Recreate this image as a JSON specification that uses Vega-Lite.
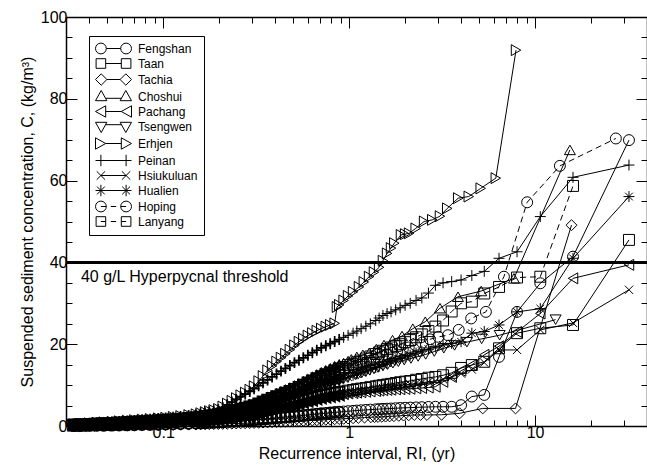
{
  "$schema": "https://vega.github.io/schema/vega-lite/v6.json",
  "width": 581,
  "height": 409,
  "autosize": {"type": "none"},
  "padding": {"left": 66, "top": 17, "right": 0, "bottom": 40},
  "config": {
    "font": "Liberation Sans",
    "view": {"stroke": null},
    "axis": {
      "labelFont": "Liberation Sans", "titleFont": "Liberation Sans",
      "labelFontSize": 16, "titleFontSize": 16, "titleFontWeight": "normal",
      "labelColor": "black", "titleColor": "black",
      "domainColor": "black", "domainWidth": 1.5,
      "tickColor": "black", "tickWidth": 1,
      "grid": false, "labelFlush": false, "labelOverlap": false
    }
  },
  "data": {"values": [
    {"river":"Tachia","ri":0.033,"c":0.05},{"river":"Tachia","ri":0.036,"c":0.06},{"river":"Tachia","ri":0.04,"c":0.08},{"river":"Tachia","ri":0.044,"c":0.09},{"river":"Tachia","ri":0.048,"c":0.1},{"river":"Tachia","ri":0.053,"c":0.11},{"river":"Tachia","ri":0.058,"c":0.12},{"river":"Tachia","ri":0.064,"c":0.14},{"river":"Tachia","ri":0.07,"c":0.16},{"river":"Tachia","ri":0.077,"c":0.18},{"river":"Tachia","ri":0.085,"c":0.2},{"river":"Tachia","ri":0.094,"c":0.23},{"river":"Tachia","ri":0.103,"c":0.25},{"river":"Tachia","ri":0.113,"c":0.28},{"river":"Tachia","ri":0.124,"c":0.3},{"river":"Tachia","ri":0.137,"c":0.33},
    {"river":"Tachia","ri":0.15,"c":0.36},{"river":"Tachia","ri":0.159,"c":0.39},{"river":"Tachia","ri":0.168,"c":0.41},{"river":"Tachia","ri":0.177,"c":0.44},{"river":"Tachia","ri":0.187,"c":0.46},{"river":"Tachia","ri":0.198,"c":0.49},{"river":"Tachia","ri":0.209,"c":0.52},{"river":"Tachia","ri":0.221,"c":0.55},{"river":"Tachia","ri":0.234,"c":0.58},{"river":"Tachia","ri":0.247,"c":0.62},{"river":"Tachia","ri":0.261,"c":0.65},{"river":"Tachia","ri":0.276,"c":0.68},{"river":"Tachia","ri":0.292,"c":0.71},{"river":"Tachia","ri":0.308,"c":0.75},{"river":"Tachia","ri":0.326,"c":0.79},{"river":"Tachia","ri":0.344,"c":0.84},{"river":"Tachia","ri":0.364,"c":0.88},{"river":"Tachia","ri":0.385,"c":0.93},{"river":"Tachia","ri":0.407,"c":0.97},{"river":"Tachia","ri":0.43,"c":1.01},{"river":"Tachia","ri":0.454,"c":1.05},{"river":"Tachia","ri":0.48,"c":1.1},{"river":"Tachia","ri":0.508,"c":1.15},{"river":"Tachia","ri":0.537,"c":1.2},{"river":"Tachia","ri":0.567,"c":1.25},{"river":"Tachia","ri":0.6,"c":1.3},{"river":"Tachia","ri":0.634,"c":1.36},{"river":"Tachia","ri":0.67,"c":1.41},{"river":"Tachia","ri":0.708,"c":1.46},{"river":"Tachia","ri":0.749,"c":1.53},{"river":"Tachia","ri":0.791,"c":1.59},{"river":"Tachia","ri":0.836,"c":1.65},{"river":"Tachia","ri":0.884,"c":1.71},{"river":"Tachia","ri":0.934,"c":1.77},{"river":"Tachia","ri":0.987,"c":1.83},
    {"river":"Tachia","ri":1.05,"c":1.9},{"river":"Tachia","ri":1.12,"c":1.97},{"river":"Tachia","ri":1.21,"c":2.05},{"river":"Tachia","ri":1.31,"c":2.15},{"river":"Tachia","ri":1.37,"c":2.18},{"river":"Tachia","ri":1.43,"c":2.2},{"river":"Tachia","ri":1.5,"c":2.25},{"river":"Tachia","ri":1.57,"c":2.3},{"river":"Tachia","ri":1.65,"c":2.35},{"river":"Tachia","ri":1.74,"c":2.4},{"river":"Tachia","ri":1.85,"c":2.48},{"river":"Tachia","ri":1.96,"c":2.55},{"river":"Tachia","ri":2.09,"c":2.62},{"river":"Tachia","ri":2.24,"c":2.7},{"river":"Tachia","ri":2.42,"c":2.7},{"river":"Tachia","ri":2.62,"c":2.7},{"river":"Tachia","ri":3.14,"c":2.75},{"river":"Tachia","ri":3.93,"c":3.1},{"river":"Tachia","ri":5.23,"c":4.3},{"river":"Tachia","ri":7.85,"c":4.3},{"river":"Tachia","ri":15.7,"c":49.1},

    {"river":"Fengshan","ri":0.033,"c":0.08},{"river":"Fengshan","ri":0.036,"c":0.1},{"river":"Fengshan","ri":0.04,"c":0.13},{"river":"Fengshan","ri":0.044,"c":0.15},{"river":"Fengshan","ri":0.048,"c":0.17},{"river":"Fengshan","ri":0.053,"c":0.2},{"river":"Fengshan","ri":0.058,"c":0.22},{"river":"Fengshan","ri":0.064,"c":0.26},{"river":"Fengshan","ri":0.07,"c":0.29},{"river":"Fengshan","ri":0.077,"c":0.33},{"river":"Fengshan","ri":0.085,"c":0.37},{"river":"Fengshan","ri":0.094,"c":0.41},{"river":"Fengshan","ri":0.103,"c":0.46},{"river":"Fengshan","ri":0.113,"c":0.52},{"river":"Fengshan","ri":0.124,"c":0.58},{"river":"Fengshan","ri":0.137,"c":0.64},
    {"river":"Fengshan","ri":0.15,"c":0.7},{"river":"Fengshan","ri":0.159,"c":0.75},{"river":"Fengshan","ri":0.168,"c":0.8},{"river":"Fengshan","ri":0.177,"c":0.85},{"river":"Fengshan","ri":0.187,"c":0.9},{"river":"Fengshan","ri":0.198,"c":0.95},{"river":"Fengshan","ri":0.209,"c":1.02},{"river":"Fengshan","ri":0.221,"c":1.09},{"river":"Fengshan","ri":0.234,"c":1.16},{"river":"Fengshan","ri":0.247,"c":1.23},{"river":"Fengshan","ri":0.261,"c":1.3},{"river":"Fengshan","ri":0.276,"c":1.37},{"river":"Fengshan","ri":0.292,"c":1.44},{"river":"Fengshan","ri":0.308,"c":1.52},{"river":"Fengshan","ri":0.326,"c":1.62},{"river":"Fengshan","ri":0.344,"c":1.71},{"river":"Fengshan","ri":0.364,"c":1.81},{"river":"Fengshan","ri":0.385,"c":1.91},{"river":"Fengshan","ri":0.407,"c":2.0},{"river":"Fengshan","ri":0.43,"c":2.1},{"river":"Fengshan","ri":0.454,"c":2.19},{"river":"Fengshan","ri":0.48,"c":2.28},{"river":"Fengshan","ri":0.508,"c":2.38},{"river":"Fengshan","ri":0.537,"c":2.49},{"river":"Fengshan","ri":0.567,"c":2.59},{"river":"Fengshan","ri":0.6,"c":2.7},{"river":"Fengshan","ri":0.634,"c":2.81},{"river":"Fengshan","ri":0.67,"c":2.92},{"river":"Fengshan","ri":0.708,"c":3.02},{"river":"Fengshan","ri":0.749,"c":3.12},{"river":"Fengshan","ri":0.791,"c":3.22},{"river":"Fengshan","ri":0.836,"c":3.33},{"river":"Fengshan","ri":0.884,"c":3.42},{"river":"Fengshan","ri":0.934,"c":3.53},{"river":"Fengshan","ri":0.987,"c":3.62},
    {"river":"Fengshan","ri":1.05,"c":3.7},{"river":"Fengshan","ri":1.1,"c":3.78},{"river":"Fengshan","ri":1.16,"c":3.85},{"river":"Fengshan","ri":1.23,"c":3.93},{"river":"Fengshan","ri":1.3,"c":4.0},{"river":"Fengshan","ri":1.39,"c":4.08},{"river":"Fengshan","ri":1.45,"c":4.13},{"river":"Fengshan","ri":1.52,"c":4.18},{"river":"Fengshan","ri":1.6,"c":4.23},{"river":"Fengshan","ri":1.68,"c":4.28},{"river":"Fengshan","ri":1.78,"c":4.34},{"river":"Fengshan","ri":1.88,"c":4.4},{"river":"Fengshan","ri":2.0,"c":4.45},{"river":"Fengshan","ri":2.13,"c":4.5},{"river":"Fengshan","ri":2.29,"c":4.55},{"river":"Fengshan","ri":2.46,"c":4.6},{"river":"Fengshan","ri":2.67,"c":4.65},{"river":"Fengshan","ri":2.91,"c":4.7},{"river":"Fengshan","ri":3.2,"c":4.7},{"river":"Fengshan","ri":3.56,"c":4.7},{"river":"Fengshan","ri":4.0,"c":5.1},{"river":"Fengshan","ri":4.57,"c":7.2},{"river":"Fengshan","ri":5.33,"c":7.6},{"river":"Fengshan","ri":6.4,"c":16.9},{"river":"Fengshan","ri":8,"c":27.9},{"river":"Fengshan","ri":10.67,"c":34.9},{"river":"Fengshan","ri":16,"c":41.4},{"river":"Fengshan","ri":32,"c":69.9},

    {"river":"Hsiukuluan","ri":0.033,"c":0.14},{"river":"Hsiukuluan","ri":0.036,"c":0.18},{"river":"Hsiukuluan","ri":0.04,"c":0.24},{"river":"Hsiukuluan","ri":0.044,"c":0.28},{"river":"Hsiukuluan","ri":0.048,"c":0.33},{"river":"Hsiukuluan","ri":0.053,"c":0.38},{"river":"Hsiukuluan","ri":0.058,"c":0.42},{"river":"Hsiukuluan","ri":0.064,"c":0.49},{"river":"Hsiukuluan","ri":0.07,"c":0.55},{"river":"Hsiukuluan","ri":0.077,"c":0.62},{"river":"Hsiukuluan","ri":0.085,"c":0.69},{"river":"Hsiukuluan","ri":0.094,"c":0.76},{"river":"Hsiukuluan","ri":0.103,"c":0.83},{"river":"Hsiukuluan","ri":0.113,"c":0.93},{"river":"Hsiukuluan","ri":0.124,"c":1.02},{"river":"Hsiukuluan","ri":0.137,"c":1.13},
    {"river":"Hsiukuluan","ri":0.15,"c":1.22},{"river":"Hsiukuluan","ri":0.159,"c":1.31},{"river":"Hsiukuluan","ri":0.168,"c":1.39},{"river":"Hsiukuluan","ri":0.177,"c":1.48},{"river":"Hsiukuluan","ri":0.187,"c":1.56},{"river":"Hsiukuluan","ri":0.198,"c":1.64},{"river":"Hsiukuluan","ri":0.209,"c":1.78},{"river":"Hsiukuluan","ri":0.221,"c":1.93},{"river":"Hsiukuluan","ri":0.234,"c":2.09},{"river":"Hsiukuluan","ri":0.247,"c":2.23},{"river":"Hsiukuluan","ri":0.261,"c":2.38},{"river":"Hsiukuluan","ri":0.276,"c":2.52},{"river":"Hsiukuluan","ri":0.292,"c":2.67},{"river":"Hsiukuluan","ri":0.308,"c":2.86},{"river":"Hsiukuluan","ri":0.326,"c":3.1},{"river":"Hsiukuluan","ri":0.344,"c":3.34},{"river":"Hsiukuluan","ri":0.364,"c":3.59},{"river":"Hsiukuluan","ri":0.385,"c":3.83},{"river":"Hsiukuluan","ri":0.407,"c":4.07},{"river":"Hsiukuluan","ri":0.43,"c":4.31},{"river":"Hsiukuluan","ri":0.454,"c":4.53},{"river":"Hsiukuluan","ri":0.48,"c":4.77},{"river":"Hsiukuluan","ri":0.508,"c":5.03},{"river":"Hsiukuluan","ri":0.537,"c":5.3},{"river":"Hsiukuluan","ri":0.567,"c":5.56},{"river":"Hsiukuluan","ri":0.6,"c":5.84},{"river":"Hsiukuluan","ri":0.634,"c":6.12},{"river":"Hsiukuluan","ri":0.67,"c":6.39},{"river":"Hsiukuluan","ri":0.708,"c":6.64},{"river":"Hsiukuluan","ri":0.749,"c":6.85},{"river":"Hsiukuluan","ri":0.791,"c":7.04},{"river":"Hsiukuluan","ri":0.836,"c":7.25},{"river":"Hsiukuluan","ri":0.884,"c":7.45},{"river":"Hsiukuluan","ri":0.934,"c":7.65},{"river":"Hsiukuluan","ri":0.987,"c":7.85},
    {"river":"Hsiukuluan","ri":1.05,"c":8.0},{"river":"Hsiukuluan","ri":1.1,"c":8.2},{"river":"Hsiukuluan","ri":1.16,"c":8.4},{"river":"Hsiukuluan","ri":1.23,"c":8.6},{"river":"Hsiukuluan","ri":1.3,"c":8.8},{"river":"Hsiukuluan","ri":1.39,"c":9.0},{"river":"Hsiukuluan","ri":1.45,"c":9.15},{"river":"Hsiukuluan","ri":1.52,"c":9.3},{"river":"Hsiukuluan","ri":1.6,"c":9.45},{"river":"Hsiukuluan","ri":1.68,"c":9.6},{"river":"Hsiukuluan","ri":1.78,"c":9.75},{"river":"Hsiukuluan","ri":1.88,"c":9.9},{"river":"Hsiukuluan","ri":2.0,"c":10.05},{"river":"Hsiukuluan","ri":2.13,"c":10.2},{"river":"Hsiukuluan","ri":2.29,"c":10.4},{"river":"Hsiukuluan","ri":2.46,"c":10.6},{"river":"Hsiukuluan","ri":2.67,"c":10.8},{"river":"Hsiukuluan","ri":2.91,"c":11.0},{"river":"Hsiukuluan","ri":3.2,"c":11.4},{"river":"Hsiukuluan","ri":3.56,"c":12.0},{"river":"Hsiukuluan","ri":4.0,"c":12.8},{"river":"Hsiukuluan","ri":4.57,"c":13.8},{"river":"Hsiukuluan","ri":5.33,"c":15.5},{"river":"Hsiukuluan","ri":6.4,"c":18.6},{"river":"Hsiukuluan","ri":8,"c":18.6},{"river":"Hsiukuluan","ri":10.67,"c":23.5},{"river":"Hsiukuluan","ri":16,"c":25.2},{"river":"Hsiukuluan","ri":32,"c":33.3},

    {"river":"Pachang","ri":0.033,"c":0.16},{"river":"Pachang","ri":0.036,"c":0.2},{"river":"Pachang","ri":0.04,"c":0.26},{"river":"Pachang","ri":0.044,"c":0.3},{"river":"Pachang","ri":0.048,"c":0.35},{"river":"Pachang","ri":0.053,"c":0.4},{"river":"Pachang","ri":0.058,"c":0.44},{"river":"Pachang","ri":0.064,"c":0.51},{"river":"Pachang","ri":0.07,"c":0.57},{"river":"Pachang","ri":0.077,"c":0.64},{"river":"Pachang","ri":0.085,"c":0.71},{"river":"Pachang","ri":0.094,"c":0.79},{"river":"Pachang","ri":0.103,"c":0.86},{"river":"Pachang","ri":0.113,"c":0.96},{"river":"Pachang","ri":0.124,"c":1.06},{"river":"Pachang","ri":0.137,"c":1.17},
    {"river":"Pachang","ri":0.15,"c":1.26},{"river":"Pachang","ri":0.159,"c":1.35},{"river":"Pachang","ri":0.168,"c":1.44},{"river":"Pachang","ri":0.177,"c":1.53},{"river":"Pachang","ri":0.187,"c":1.61},{"river":"Pachang","ri":0.198,"c":1.7},{"river":"Pachang","ri":0.209,"c":1.84},{"river":"Pachang","ri":0.221,"c":2.0},{"river":"Pachang","ri":0.234,"c":2.16},{"river":"Pachang","ri":0.247,"c":2.31},{"river":"Pachang","ri":0.261,"c":2.47},{"river":"Pachang","ri":0.276,"c":2.61},{"river":"Pachang","ri":0.292,"c":2.77},{"river":"Pachang","ri":0.308,"c":2.96},{"river":"Pachang","ri":0.326,"c":3.21},{"river":"Pachang","ri":0.344,"c":3.46},{"river":"Pachang","ri":0.364,"c":3.7},{"river":"Pachang","ri":0.385,"c":3.95},{"river":"Pachang","ri":0.407,"c":4.2},{"river":"Pachang","ri":0.43,"c":4.45},{"river":"Pachang","ri":0.454,"c":4.67},{"river":"Pachang","ri":0.48,"c":4.92},{"river":"Pachang","ri":0.508,"c":5.19},{"river":"Pachang","ri":0.537,"c":5.46},{"river":"Pachang","ri":0.567,"c":5.73},{"river":"Pachang","ri":0.6,"c":6.02},{"river":"Pachang","ri":0.634,"c":6.31},{"river":"Pachang","ri":0.67,"c":6.58},{"river":"Pachang","ri":0.708,"c":6.84},{"river":"Pachang","ri":0.749,"c":7.03},{"river":"Pachang","ri":0.791,"c":7.21},{"river":"Pachang","ri":0.836,"c":7.4},{"river":"Pachang","ri":0.884,"c":7.58},{"river":"Pachang","ri":0.934,"c":7.77},{"river":"Pachang","ri":0.987,"c":7.95},
    {"river":"Pachang","ri":1.05,"c":8.05},{"river":"Pachang","ri":1.1,"c":8.15},{"river":"Pachang","ri":1.16,"c":8.25},{"river":"Pachang","ri":1.23,"c":8.35},{"river":"Pachang","ri":1.3,"c":8.45},{"river":"Pachang","ri":1.39,"c":8.55},{"river":"Pachang","ri":1.45,"c":8.65},{"river":"Pachang","ri":1.52,"c":8.75},{"river":"Pachang","ri":1.6,"c":8.82},{"river":"Pachang","ri":1.68,"c":8.88},{"river":"Pachang","ri":1.78,"c":8.95},{"river":"Pachang","ri":1.88,"c":9.0},{"river":"Pachang","ri":2.0,"c":9.05},{"river":"Pachang","ri":2.13,"c":9.1},{"river":"Pachang","ri":2.29,"c":9.2},{"river":"Pachang","ri":2.46,"c":9.3},{"river":"Pachang","ri":2.67,"c":9.4},{"river":"Pachang","ri":2.91,"c":9.6},{"river":"Pachang","ri":3.2,"c":10.8},{"river":"Pachang","ri":3.56,"c":12.0},{"river":"Pachang","ri":4.0,"c":13.5},{"river":"Pachang","ri":4.57,"c":14.9},{"river":"Pachang","ri":5.33,"c":17.4},{"river":"Pachang","ri":6.4,"c":19.5},{"river":"Pachang","ri":8,"c":23.0},{"river":"Pachang","ri":10.67,"c":27.5},{"river":"Pachang","ri":16,"c":36.1},{"river":"Pachang","ri":32,"c":39.4},

    {"river":"Taan","ri":0.033,"c":0.18},{"river":"Taan","ri":0.036,"c":0.23},{"river":"Taan","ri":0.04,"c":0.29},{"river":"Taan","ri":0.044,"c":0.34},{"river":"Taan","ri":0.048,"c":0.39},{"river":"Taan","ri":0.053,"c":0.45},{"river":"Taan","ri":0.058,"c":0.5},{"river":"Taan","ri":0.064,"c":0.57},{"river":"Taan","ri":0.07,"c":0.64},{"river":"Taan","ri":0.077,"c":0.72},{"river":"Taan","ri":0.085,"c":0.8},{"river":"Taan","ri":0.094,"c":0.88},{"river":"Taan","ri":0.103,"c":0.96},{"river":"Taan","ri":0.113,"c":1.07},{"river":"Taan","ri":0.124,"c":1.18},{"river":"Taan","ri":0.137,"c":1.3},
    {"river":"Taan","ri":0.15,"c":1.4},{"river":"Taan","ri":0.159,"c":1.5},{"river":"Taan","ri":0.168,"c":1.6},{"river":"Taan","ri":0.177,"c":1.69},{"river":"Taan","ri":0.187,"c":1.79},{"river":"Taan","ri":0.198,"c":1.88},{"river":"Taan","ri":0.209,"c":2.03},{"river":"Taan","ri":0.221,"c":2.2},{"river":"Taan","ri":0.234,"c":2.37},{"river":"Taan","ri":0.247,"c":2.52},{"river":"Taan","ri":0.261,"c":2.69},{"river":"Taan","ri":0.276,"c":2.85},{"river":"Taan","ri":0.292,"c":3.02},{"river":"Taan","ri":0.308,"c":3.23},{"river":"Taan","ri":0.326,"c":3.5},{"river":"Taan","ri":0.344,"c":3.78},{"river":"Taan","ri":0.364,"c":4.05},{"river":"Taan","ri":0.385,"c":4.33},{"river":"Taan","ri":0.407,"c":4.6},{"river":"Taan","ri":0.43,"c":4.88},{"river":"Taan","ri":0.454,"c":5.13},{"river":"Taan","ri":0.48,"c":5.4},{"river":"Taan","ri":0.508,"c":5.69},{"river":"Taan","ri":0.537,"c":5.98},{"river":"Taan","ri":0.567,"c":6.27},{"river":"Taan","ri":0.6,"c":6.57},{"river":"Taan","ri":0.634,"c":6.88},{"river":"Taan","ri":0.67,"c":7.17},{"river":"Taan","ri":0.708,"c":7.44},{"river":"Taan","ri":0.749,"c":7.65},{"river":"Taan","ri":0.791,"c":7.84},{"river":"Taan","ri":0.836,"c":8.05},{"river":"Taan","ri":0.884,"c":8.25},{"river":"Taan","ri":0.934,"c":8.45},{"river":"Taan","ri":0.987,"c":8.65},
    {"river":"Taan","ri":1.05,"c":8.8},{"river":"Taan","ri":1.1,"c":9.0},{"river":"Taan","ri":1.16,"c":9.15},{"river":"Taan","ri":1.23,"c":9.3},{"river":"Taan","ri":1.3,"c":9.5},{"river":"Taan","ri":1.39,"c":9.7},{"river":"Taan","ri":1.45,"c":9.85},{"river":"Taan","ri":1.52,"c":10.0},{"river":"Taan","ri":1.6,"c":10.15},{"river":"Taan","ri":1.68,"c":10.3},{"river":"Taan","ri":1.78,"c":10.5},{"river":"Taan","ri":1.88,"c":10.7},{"river":"Taan","ri":2.0,"c":10.85},{"river":"Taan","ri":2.13,"c":11.0},{"river":"Taan","ri":2.29,"c":11.3},{"river":"Taan","ri":2.46,"c":11.5},{"river":"Taan","ri":2.67,"c":11.8},{"river":"Taan","ri":2.91,"c":12.0},{"river":"Taan","ri":3.2,"c":12.4},{"river":"Taan","ri":3.56,"c":13.0},{"river":"Taan","ri":4.0,"c":14.2},{"river":"Taan","ri":4.57,"c":14.9},{"river":"Taan","ri":5.33,"c":15.7},{"river":"Taan","ri":6.4,"c":19.0},{"river":"Taan","ri":8,"c":22.7},{"river":"Taan","ri":10.67,"c":23.9},{"river":"Taan","ri":16,"c":24.7},{"river":"Taan","ri":32,"c":45.5},

    {"river":"Tsengwen","ri":0.033,"c":0.22},{"river":"Tsengwen","ri":0.036,"c":0.29},{"river":"Tsengwen","ri":0.04,"c":0.37},{"river":"Tsengwen","ri":0.044,"c":0.45},{"river":"Tsengwen","ri":0.048,"c":0.52},{"river":"Tsengwen","ri":0.053,"c":0.6},{"river":"Tsengwen","ri":0.058,"c":0.67},{"river":"Tsengwen","ri":0.064,"c":0.76},{"river":"Tsengwen","ri":0.07,"c":0.85},{"river":"Tsengwen","ri":0.077,"c":0.94},{"river":"Tsengwen","ri":0.085,"c":1.03},{"river":"Tsengwen","ri":0.094,"c":1.13},{"river":"Tsengwen","ri":0.103,"c":1.23},{"river":"Tsengwen","ri":0.113,"c":1.37},{"river":"Tsengwen","ri":0.124,"c":1.5},{"river":"Tsengwen","ri":0.137,"c":1.65},
    {"river":"Tsengwen","ri":0.15,"c":1.78},{"river":"Tsengwen","ri":0.159,"c":1.91},{"river":"Tsengwen","ri":0.168,"c":2.04},{"river":"Tsengwen","ri":0.177,"c":2.17},{"river":"Tsengwen","ri":0.187,"c":2.3},{"river":"Tsengwen","ri":0.198,"c":2.42},{"river":"Tsengwen","ri":0.209,"c":2.61},{"river":"Tsengwen","ri":0.221,"c":2.81},{"river":"Tsengwen","ri":0.234,"c":3.02},{"river":"Tsengwen","ri":0.247,"c":3.2},{"river":"Tsengwen","ri":0.261,"c":3.41},{"river":"Tsengwen","ri":0.276,"c":3.6},{"river":"Tsengwen","ri":0.292,"c":3.8},{"river":"Tsengwen","ri":0.308,"c":4.07},{"river":"Tsengwen","ri":0.326,"c":4.43},{"river":"Tsengwen","ri":0.344,"c":4.79},{"river":"Tsengwen","ri":0.364,"c":5.15},{"river":"Tsengwen","ri":0.385,"c":5.52},{"river":"Tsengwen","ri":0.407,"c":5.88},{"river":"Tsengwen","ri":0.43,"c":6.24},{"river":"Tsengwen","ri":0.454,"c":6.57},{"river":"Tsengwen","ri":0.48,"c":6.94},{"river":"Tsengwen","ri":0.508,"c":7.33},{"river":"Tsengwen","ri":0.537,"c":7.75},{"river":"Tsengwen","ri":0.567,"c":8.16},{"river":"Tsengwen","ri":0.6,"c":8.6},{"river":"Tsengwen","ri":0.634,"c":9.05},{"river":"Tsengwen","ri":0.67,"c":9.46},{"river":"Tsengwen","ri":0.708,"c":9.87},{"river":"Tsengwen","ri":0.749,"c":10.22},{"river":"Tsengwen","ri":0.791,"c":10.55},{"river":"Tsengwen","ri":0.836,"c":10.9},{"river":"Tsengwen","ri":0.884,"c":11.23},{"river":"Tsengwen","ri":0.934,"c":11.58},{"river":"Tsengwen","ri":0.987,"c":11.91},
    {"river":"Tsengwen","ri":1.08,"c":12.5},{"river":"Tsengwen","ri":1.12,"c":12.7},{"river":"Tsengwen","ri":1.17,"c":13.0},{"river":"Tsengwen","ri":1.23,"c":13.3},{"river":"Tsengwen","ri":1.29,"c":13.6},{"river":"Tsengwen","ri":1.36,"c":13.95},{"river":"Tsengwen","ri":1.43,"c":14.3},{"river":"Tsengwen","ri":1.52,"c":14.65},{"river":"Tsengwen","ri":1.61,"c":15.0},{"river":"Tsengwen","ri":1.72,"c":15.35},{"river":"Tsengwen","ri":1.84,"c":15.7},{"river":"Tsengwen","ri":1.98,"c":16.1},{"river":"Tsengwen","ri":2.15,"c":16.5},{"river":"Tsengwen","ri":2.35,"c":17.0},{"river":"Tsengwen","ri":2.58,"c":17.5},{"river":"Tsengwen","ri":2.87,"c":18.2},{"river":"Tsengwen","ri":3.23,"c":19.0},{"river":"Tsengwen","ri":3.69,"c":19.7},{"river":"Tsengwen","ri":4.3,"c":20.5},{"river":"Tsengwen","ri":5.16,"c":21.3},{"river":"Tsengwen","ri":6.45,"c":22.2},{"river":"Tsengwen","ri":12.9,"c":26.0},

    {"river":"Hualien","ri":0.033,"c":0.25},{"river":"Hualien","ri":0.036,"c":0.32},{"river":"Hualien","ri":0.04,"c":0.41},{"river":"Hualien","ri":0.044,"c":0.49},{"river":"Hualien","ri":0.048,"c":0.57},{"river":"Hualien","ri":0.053,"c":0.65},{"river":"Hualien","ri":0.058,"c":0.72},{"river":"Hualien","ri":0.064,"c":0.82},{"river":"Hualien","ri":0.07,"c":0.91},{"river":"Hualien","ri":0.077,"c":1.02},{"river":"Hualien","ri":0.085,"c":1.12},{"river":"Hualien","ri":0.094,"c":1.23},{"river":"Hualien","ri":0.103,"c":1.34},{"river":"Hualien","ri":0.113,"c":1.48},{"river":"Hualien","ri":0.124,"c":1.63},{"river":"Hualien","ri":0.137,"c":1.79},
    {"river":"Hualien","ri":0.15,"c":1.93},{"river":"Hualien","ri":0.159,"c":2.08},{"river":"Hualien","ri":0.168,"c":2.22},{"river":"Hualien","ri":0.177,"c":2.37},{"river":"Hualien","ri":0.187,"c":2.51},{"river":"Hualien","ri":0.198,"c":2.65},{"river":"Hualien","ri":0.209,"c":2.86},{"river":"Hualien","ri":0.221,"c":3.09},{"river":"Hualien","ri":0.234,"c":3.31},{"river":"Hualien","ri":0.247,"c":3.52},{"river":"Hualien","ri":0.261,"c":3.75},{"river":"Hualien","ri":0.276,"c":3.96},{"river":"Hualien","ri":0.292,"c":4.19},{"river":"Hualien","ri":0.308,"c":4.48},{"river":"Hualien","ri":0.326,"c":4.86},{"river":"Hualien","ri":0.344,"c":5.25},{"river":"Hualien","ri":0.364,"c":5.63},{"river":"Hualien","ri":0.385,"c":6.02},{"river":"Hualien","ri":0.407,"c":6.4},{"river":"Hualien","ri":0.43,"c":6.79},{"river":"Hualien","ri":0.454,"c":7.14},{"river":"Hualien","ri":0.48,"c":7.52},{"river":"Hualien","ri":0.508,"c":7.93},{"river":"Hualien","ri":0.537,"c":8.35},{"river":"Hualien","ri":0.567,"c":8.76},{"river":"Hualien","ri":0.6,"c":9.2},{"river":"Hualien","ri":0.634,"c":9.65},{"river":"Hualien","ri":0.67,"c":10.06},{"river":"Hualien","ri":0.708,"c":10.45},{"river":"Hualien","ri":0.749,"c":10.7},{"river":"Hualien","ri":0.791,"c":10.94},{"river":"Hualien","ri":0.836,"c":11.2},{"river":"Hualien","ri":0.884,"c":11.44},{"river":"Hualien","ri":0.934,"c":11.7},{"river":"Hualien","ri":0.987,"c":11.94},
    {"river":"Hualien","ri":1.05,"c":12.4},{"river":"Hualien","ri":1.1,"c":12.75},{"river":"Hualien","ri":1.16,"c":13.1},{"river":"Hualien","ri":1.23,"c":13.5},{"river":"Hualien","ri":1.3,"c":13.9},{"river":"Hualien","ri":1.39,"c":14.3},{"river":"Hualien","ri":1.45,"c":14.65},{"river":"Hualien","ri":1.52,"c":15.0},{"river":"Hualien","ri":1.6,"c":15.4},{"river":"Hualien","ri":1.68,"c":15.8},{"river":"Hualien","ri":1.78,"c":16.15},{"river":"Hualien","ri":1.88,"c":16.5},{"river":"Hualien","ri":2.0,"c":16.9},{"river":"Hualien","ri":2.13,"c":17.3},{"river":"Hualien","ri":2.29,"c":17.8},{"river":"Hualien","ri":2.46,"c":18.3},{"river":"Hualien","ri":2.67,"c":18.8},{"river":"Hualien","ri":2.91,"c":19.3},{"river":"Hualien","ri":3.2,"c":19.8},{"river":"Hualien","ri":3.56,"c":20.2},{"river":"Hualien","ri":4.0,"c":20.6},{"river":"Hualien","ri":4.57,"c":22.7},{"river":"Hualien","ri":5.33,"c":23.1},{"river":"Hualien","ri":6.4,"c":24.7},{"river":"Hualien","ri":8,"c":27.9},{"river":"Hualien","ri":10.67,"c":28.7},{"river":"Hualien","ri":16,"c":41.0},{"river":"Hualien","ri":32,"c":56.1},

    {"river":"Hoping","ri":0.033,"c":0.27},{"river":"Hoping","ri":0.036,"c":0.35},{"river":"Hoping","ri":0.04,"c":0.45},{"river":"Hoping","ri":0.044,"c":0.53},{"river":"Hoping","ri":0.048,"c":0.62},{"river":"Hoping","ri":0.053,"c":0.7},{"river":"Hoping","ri":0.058,"c":0.79},{"river":"Hoping","ri":0.064,"c":0.9},{"river":"Hoping","ri":0.07,"c":0.99},{"river":"Hoping","ri":0.077,"c":1.1},{"river":"Hoping","ri":0.085,"c":1.21},{"river":"Hoping","ri":0.094,"c":1.33},{"river":"Hoping","ri":0.103,"c":1.45},{"river":"Hoping","ri":0.113,"c":1.6},{"river":"Hoping","ri":0.124,"c":1.76},{"river":"Hoping","ri":0.137,"c":1.92},
    {"river":"Hoping","ri":0.15,"c":2.07},{"river":"Hoping","ri":0.159,"c":2.24},{"river":"Hoping","ri":0.168,"c":2.39},{"river":"Hoping","ri":0.177,"c":2.55},{"river":"Hoping","ri":0.187,"c":2.71},{"river":"Hoping","ri":0.198,"c":2.87},{"river":"Hoping","ri":0.209,"c":3.1},{"river":"Hoping","ri":0.221,"c":3.35},{"river":"Hoping","ri":0.234,"c":3.6},{"river":"Hoping","ri":0.247,"c":3.84},{"river":"Hoping","ri":0.261,"c":4.09},{"river":"Hoping","ri":0.276,"c":4.32},{"river":"Hoping","ri":0.292,"c":4.57},{"river":"Hoping","ri":0.308,"c":4.89},{"river":"Hoping","ri":0.326,"c":5.31},{"river":"Hoping","ri":0.344,"c":5.73},{"river":"Hoping","ri":0.364,"c":6.14},{"river":"Hoping","ri":0.385,"c":6.56},{"river":"Hoping","ri":0.407,"c":6.98},{"river":"Hoping","ri":0.43,"c":7.4},{"river":"Hoping","ri":0.454,"c":7.78},{"river":"Hoping","ri":0.48,"c":8.2},{"river":"Hoping","ri":0.508,"c":8.65},{"river":"Hoping","ri":0.537,"c":9.13},{"river":"Hoping","ri":0.567,"c":9.61},{"river":"Hoping","ri":0.6,"c":10.12},{"river":"Hoping","ri":0.634,"c":10.63},{"river":"Hoping","ri":0.67,"c":11.11},{"river":"Hoping","ri":0.708,"c":11.58},{"river":"Hoping","ri":0.749,"c":12.01},{"river":"Hoping","ri":0.791,"c":12.42},{"river":"Hoping","ri":0.836,"c":12.85},{"river":"Hoping","ri":0.884,"c":13.26},{"river":"Hoping","ri":0.934,"c":13.69},{"river":"Hoping","ri":0.987,"c":14.09},
    {"river":"Hoping","ri":1.046,"c":14.4},{"river":"Hoping","ri":1.088,"c":14.7},{"river":"Hoping","ri":1.133,"c":15.0},{"river":"Hoping","ri":1.183,"c":15.3},{"river":"Hoping","ri":1.236,"c":15.6},{"river":"Hoping","ri":1.295,"c":15.95},{"river":"Hoping","ri":1.36,"c":16.3},{"river":"Hoping","ri":1.432,"c":16.7},{"river":"Hoping","ri":1.511,"c":17.1},{"river":"Hoping","ri":1.6,"c":17.5},{"river":"Hoping","ri":1.7,"c":17.9},{"river":"Hoping","ri":1.813,"c":18.3},{"river":"Hoping","ri":1.943,"c":18.75},{"river":"Hoping","ri":2.092,"c":19.2},{"river":"Hoping","ri":2.267,"c":19.8},{"river":"Hoping","ri":2.473,"c":20.4},{"river":"Hoping","ri":2.72,"c":21.2},{"river":"Hoping","ri":3.022,"c":21.8},{"river":"Hoping","ri":3.4,"c":22.2},{"river":"Hoping","ri":3.886,"c":23.5},{"river":"Hoping","ri":4.533,"c":26.3},{"river":"Hoping","ri":5.44,"c":27.9},{"river":"Hoping","ri":6.8,"c":36.5},{"river":"Hoping","ri":9.067,"c":54.7},{"river":"Hoping","ri":13.6,"c":63.6},{"river":"Hoping","ri":27.2,"c":70.3},

    {"river":"Lanyang","ri":0.033,"c":0.26},{"river":"Lanyang","ri":0.036,"c":0.34},{"river":"Lanyang","ri":0.04,"c":0.43},{"river":"Lanyang","ri":0.044,"c":0.51},{"river":"Lanyang","ri":0.048,"c":0.59},{"river":"Lanyang","ri":0.053,"c":0.68},{"river":"Lanyang","ri":0.058,"c":0.76},{"river":"Lanyang","ri":0.064,"c":0.87},{"river":"Lanyang","ri":0.07,"c":0.96},{"river":"Lanyang","ri":0.077,"c":1.07},{"river":"Lanyang","ri":0.085,"c":1.18},{"river":"Lanyang","ri":0.094,"c":1.3},{"river":"Lanyang","ri":0.103,"c":1.42},{"river":"Lanyang","ri":0.113,"c":1.57},{"river":"Lanyang","ri":0.124,"c":1.72},{"river":"Lanyang","ri":0.137,"c":1.89},
    {"river":"Lanyang","ri":0.15,"c":2.03},{"river":"Lanyang","ri":0.159,"c":2.19},{"river":"Lanyang","ri":0.168,"c":2.35},{"river":"Lanyang","ri":0.177,"c":2.51},{"river":"Lanyang","ri":0.187,"c":2.66},{"river":"Lanyang","ri":0.198,"c":2.82},{"river":"Lanyang","ri":0.209,"c":3.07},{"river":"Lanyang","ri":0.221,"c":3.34},{"river":"Lanyang","ri":0.234,"c":3.61},{"river":"Lanyang","ri":0.247,"c":3.86},{"river":"Lanyang","ri":0.261,"c":4.14},{"river":"Lanyang","ri":0.276,"c":4.39},{"river":"Lanyang","ri":0.292,"c":4.66},{"river":"Lanyang","ri":0.308,"c":5.0},{"river":"Lanyang","ri":0.326,"c":5.44},{"river":"Lanyang","ri":0.344,"c":5.88},{"river":"Lanyang","ri":0.364,"c":6.32},{"river":"Lanyang","ri":0.385,"c":6.76},{"river":"Lanyang","ri":0.407,"c":7.2},{"river":"Lanyang","ri":0.43,"c":7.64},{"river":"Lanyang","ri":0.454,"c":8.04},{"river":"Lanyang","ri":0.48,"c":8.48},{"river":"Lanyang","ri":0.508,"c":8.96},{"river":"Lanyang","ri":0.537,"c":9.47},{"river":"Lanyang","ri":0.567,"c":9.98},{"river":"Lanyang","ri":0.6,"c":10.53},{"river":"Lanyang","ri":0.634,"c":11.07},{"river":"Lanyang","ri":0.67,"c":11.58},{"river":"Lanyang","ri":0.708,"c":12.09},{"river":"Lanyang","ri":0.749,"c":12.57},{"river":"Lanyang","ri":0.791,"c":13.02},{"river":"Lanyang","ri":0.836,"c":13.5},{"river":"Lanyang","ri":0.884,"c":13.95},{"river":"Lanyang","ri":0.934,"c":14.43},{"river":"Lanyang","ri":0.987,"c":14.88},
    {"river":"Lanyang","ri":1.05,"c":15.2},{"river":"Lanyang","ri":1.1,"c":15.6},{"river":"Lanyang","ri":1.16,"c":16.0},{"river":"Lanyang","ri":1.23,"c":16.5},{"river":"Lanyang","ri":1.3,"c":17.0},{"river":"Lanyang","ri":1.39,"c":17.6},{"river":"Lanyang","ri":1.45,"c":18.0},{"river":"Lanyang","ri":1.52,"c":18.4},{"river":"Lanyang","ri":1.6,"c":18.8},{"river":"Lanyang","ri":1.68,"c":19.2},{"river":"Lanyang","ri":1.78,"c":19.6},{"river":"Lanyang","ri":1.88,"c":20.0},{"river":"Lanyang","ri":2.0,"c":20.5},{"river":"Lanyang","ri":2.13,"c":21.0},{"river":"Lanyang","ri":2.29,"c":21.7},{"river":"Lanyang","ri":2.46,"c":22.4},{"river":"Lanyang","ri":2.67,"c":23.2},{"river":"Lanyang","ri":2.91,"c":24.3},{"river":"Lanyang","ri":3.2,"c":25.8},{"river":"Lanyang","ri":3.56,"c":28.0},{"river":"Lanyang","ri":4.0,"c":30.0},{"river":"Lanyang","ri":4.57,"c":30.4},{"river":"Lanyang","ri":5.33,"c":32.4},{"river":"Lanyang","ri":6.4,"c":34.0},{"river":"Lanyang","ri":8,"c":36.3},{"river":"Lanyang","ri":10.67,"c":36.5},{"river":"Lanyang","ri":16,"c":58.7},

    {"river":"Choshui","ri":0.033,"c":0.3},{"river":"Choshui","ri":0.036,"c":0.39},{"river":"Choshui","ri":0.04,"c":0.49},{"river":"Choshui","ri":0.044,"c":0.59},{"river":"Choshui","ri":0.048,"c":0.68},{"river":"Choshui","ri":0.053,"c":0.77},{"river":"Choshui","ri":0.058,"c":0.86},{"river":"Choshui","ri":0.064,"c":0.98},{"river":"Choshui","ri":0.07,"c":1.09},{"river":"Choshui","ri":0.077,"c":1.21},{"river":"Choshui","ri":0.085,"c":1.33},{"river":"Choshui","ri":0.094,"c":1.45},{"river":"Choshui","ri":0.103,"c":1.58},{"river":"Choshui","ri":0.113,"c":1.76},{"river":"Choshui","ri":0.124,"c":1.93},{"river":"Choshui","ri":0.137,"c":2.12},
    {"river":"Choshui","ri":0.15,"c":2.28},{"river":"Choshui","ri":0.159,"c":2.46},{"river":"Choshui","ri":0.168,"c":2.64},{"river":"Choshui","ri":0.177,"c":2.81},{"river":"Choshui","ri":0.187,"c":2.99},{"river":"Choshui","ri":0.198,"c":3.16},{"river":"Choshui","ri":0.209,"c":3.42},{"river":"Choshui","ri":0.221,"c":3.7},{"river":"Choshui","ri":0.234,"c":3.98},{"river":"Choshui","ri":0.247,"c":4.24},{"river":"Choshui","ri":0.261,"c":4.52},{"river":"Choshui","ri":0.276,"c":4.78},{"river":"Choshui","ri":0.292,"c":5.06},{"river":"Choshui","ri":0.308,"c":5.42},{"river":"Choshui","ri":0.326,"c":5.89},{"river":"Choshui","ri":0.344,"c":6.36},{"river":"Choshui","ri":0.364,"c":6.83},{"river":"Choshui","ri":0.385,"c":7.31},{"river":"Choshui","ri":0.407,"c":7.78},{"river":"Choshui","ri":0.43,"c":8.25},{"river":"Choshui","ri":0.454,"c":8.68},{"river":"Choshui","ri":0.48,"c":9.16},{"river":"Choshui","ri":0.508,"c":9.67},{"river":"Choshui","ri":0.537,"c":10.19},{"river":"Choshui","ri":0.567,"c":10.72},{"river":"Choshui","ri":0.6,"c":11.28},{"river":"Choshui","ri":0.634,"c":11.84},{"river":"Choshui","ri":0.67,"c":12.37},{"river":"Choshui","ri":0.708,"c":12.9},{"river":"Choshui","ri":0.749,"c":13.41},{"river":"Choshui","ri":0.791,"c":13.89},{"river":"Choshui","ri":0.836,"c":14.4},{"river":"Choshui","ri":0.884,"c":14.88},{"river":"Choshui","ri":0.934,"c":15.39},{"river":"Choshui","ri":0.987,"c":15.87},
    {"river":"Choshui","ri":1.027,"c":16.3},{"river":"Choshui","ri":1.1,"c":16.9},{"river":"Choshui","ri":1.185,"c":17.4},{"river":"Choshui","ri":1.283,"c":17.9},{"river":"Choshui","ri":1.4,"c":18.8},{"river":"Choshui","ri":1.54,"c":19.8},{"river":"Choshui","ri":1.711,"c":21.0},{"river":"Choshui","ri":1.925,"c":22.0},{"river":"Choshui","ri":2.2,"c":23.8},{"river":"Choshui","ri":2.567,"c":25.5},{"river":"Choshui","ri":3.08,"c":28.8},{"river":"Choshui","ri":3.85,"c":31.6},{"river":"Choshui","ri":5.133,"c":33.0},{"river":"Choshui","ri":7.7,"c":36.1},{"river":"Choshui","ri":15.4,"c":67.5},

    {"river":"Peinan","ri":0.033,"c":0.35},{"river":"Peinan","ri":0.036,"c":0.47},{"river":"Peinan","ri":0.04,"c":0.61},{"river":"Peinan","ri":0.044,"c":0.73},{"river":"Peinan","ri":0.048,"c":0.85},{"river":"Peinan","ri":0.053,"c":0.98},{"river":"Peinan","ri":0.058,"c":1.1},{"river":"Peinan","ri":0.064,"c":1.25},{"river":"Peinan","ri":0.07,"c":1.38},{"river":"Peinan","ri":0.077,"c":1.52},{"river":"Peinan","ri":0.085,"c":1.66},{"river":"Peinan","ri":0.094,"c":1.81},{"river":"Peinan","ri":0.103,"c":1.96},{"river":"Peinan","ri":0.113,"c":2.16},{"river":"Peinan","ri":0.124,"c":2.35},{"river":"Peinan","ri":0.137,"c":2.56},
    {"river":"Peinan","ri":0.15,"c":2.75},{"river":"Peinan","ri":0.159,"c":3.0},{"river":"Peinan","ri":0.168,"c":3.24},{"river":"Peinan","ri":0.177,"c":3.48},{"river":"Peinan","ri":0.187,"c":3.71},{"river":"Peinan","ri":0.198,"c":3.95},{"river":"Peinan","ri":0.209,"c":4.53},{"river":"Peinan","ri":0.221,"c":5.2},{"river":"Peinan","ri":0.234,"c":5.87},{"river":"Peinan","ri":0.247,"c":6.5},{"river":"Peinan","ri":0.261,"c":7.17},{"river":"Peinan","ri":0.276,"c":7.79},{"river":"Peinan","ri":0.292,"c":8.46},{"river":"Peinan","ri":0.308,"c":9.13},{"river":"Peinan","ri":0.326,"c":9.84},{"river":"Peinan","ri":0.344,"c":10.56},{"river":"Peinan","ri":0.364,"c":11.27},{"river":"Peinan","ri":0.385,"c":11.99},{"river":"Peinan","ri":0.407,"c":12.7},{"river":"Peinan","ri":0.43,"c":13.42},{"river":"Peinan","ri":0.454,"c":14.07},{"river":"Peinan","ri":0.48,"c":14.78},{"river":"Peinan","ri":0.508,"c":15.49},{"river":"Peinan","ri":0.537,"c":16.08},{"river":"Peinan","ri":0.567,"c":16.67},{"river":"Peinan","ri":0.6,"c":17.3},{"river":"Peinan","ri":0.634,"c":17.93},{"river":"Peinan","ri":0.67,"c":18.52},{"river":"Peinan","ri":0.708,"c":19.1},{"river":"Peinan","ri":0.749,"c":19.63},{"river":"Peinan","ri":0.791,"c":20.12},{"river":"Peinan","ri":0.836,"c":20.65},{"river":"Peinan","ri":0.884,"c":21.15},{"river":"Peinan","ri":0.934,"c":21.67},{"river":"Peinan","ri":0.987,"c":22.17},
    {"river":"Peinan","ri":1.05,"c":22.7},{"river":"Peinan","ri":1.1,"c":23.2},{"river":"Peinan","ri":1.16,"c":23.8},{"river":"Peinan","ri":1.23,"c":24.4},{"river":"Peinan","ri":1.3,"c":25.0},{"river":"Peinan","ri":1.39,"c":25.8},{"river":"Peinan","ri":1.45,"c":26.4},{"river":"Peinan","ri":1.52,"c":27.0},{"river":"Peinan","ri":1.6,"c":27.5},{"river":"Peinan","ri":1.68,"c":27.9},{"river":"Peinan","ri":1.78,"c":28.4},{"river":"Peinan","ri":1.88,"c":28.9},{"river":"Peinan","ri":2.0,"c":29.5},{"river":"Peinan","ri":2.13,"c":30.0},{"river":"Peinan","ri":2.29,"c":30.7},{"river":"Peinan","ri":2.46,"c":31.3},{"river":"Peinan","ri":2.67,"c":32.5},{"river":"Peinan","ri":2.91,"c":34.4},{"river":"Peinan","ri":3.2,"c":35.0},{"river":"Peinan","ri":3.56,"c":35.3},{"river":"Peinan","ri":4.0,"c":35.7},{"river":"Peinan","ri":4.57,"c":36.8},{"river":"Peinan","ri":5.33,"c":37.8},{"river":"Peinan","ri":6.4,"c":41.0},{"river":"Peinan","ri":8,"c":42.6},{"river":"Peinan","ri":10.67,"c":51.2},{"river":"Peinan","ri":16,"c":60.8},{"river":"Peinan","ri":32,"c":63.8},

    {"river":"Erhjen","ri":0.033,"c":0.4},{"river":"Erhjen","ri":0.036,"c":0.52},{"river":"Erhjen","ri":0.04,"c":0.66},{"river":"Erhjen","ri":0.044,"c":0.78},{"river":"Erhjen","ri":0.048,"c":0.9},{"river":"Erhjen","ri":0.053,"c":1.03},{"river":"Erhjen","ri":0.058,"c":1.15},{"river":"Erhjen","ri":0.064,"c":1.3},{"river":"Erhjen","ri":0.07,"c":1.43},{"river":"Erhjen","ri":0.077,"c":1.57},{"river":"Erhjen","ri":0.085,"c":1.71},{"river":"Erhjen","ri":0.094,"c":1.86},{"river":"Erhjen","ri":0.103,"c":2.01},{"river":"Erhjen","ri":0.113,"c":2.22},{"river":"Erhjen","ri":0.124,"c":2.43},{"river":"Erhjen","ri":0.137,"c":2.65},
    {"river":"Erhjen","ri":0.15,"c":2.85},{"river":"Erhjen","ri":0.159,"c":3.12},{"river":"Erhjen","ri":0.168,"c":3.38},{"river":"Erhjen","ri":0.177,"c":3.63},{"river":"Erhjen","ri":0.187,"c":3.89},{"river":"Erhjen","ri":0.198,"c":4.15},{"river":"Erhjen","ri":0.209,"c":4.75},{"river":"Erhjen","ri":0.221,"c":5.45},{"river":"Erhjen","ri":0.234,"c":6.15},{"river":"Erhjen","ri":0.247,"c":6.8},{"river":"Erhjen","ri":0.261,"c":7.5},{"river":"Erhjen","ri":0.276,"c":8.15},{"river":"Erhjen","ri":0.292,"c":8.85},{"river":"Erhjen","ri":0.308,"c":9.7},{"river":"Erhjen","ri":0.326,"c":10.95},{"river":"Erhjen","ri":0.344,"c":12.2},{"river":"Erhjen","ri":0.364,"c":13.6},{"river":"Erhjen","ri":0.385,"c":14.7},{"river":"Erhjen","ri":0.407,"c":15.75},{"river":"Erhjen","ri":0.43,"c":16.7},{"river":"Erhjen","ri":0.454,"c":17.65},{"river":"Erhjen","ri":0.48,"c":18.65},{"river":"Erhjen","ri":0.508,"c":19.7},{"river":"Erhjen","ri":0.537,"c":20.6},{"river":"Erhjen","ri":0.567,"c":21.35},{"river":"Erhjen","ri":0.6,"c":22.1},{"river":"Erhjen","ri":0.634,"c":22.7},{"river":"Erhjen","ri":0.67,"c":23.3},{"river":"Erhjen","ri":0.708,"c":23.8},{"river":"Erhjen","ri":0.749,"c":24.3},{"river":"Erhjen","ri":0.791,"c":24.7},{"river":"Erhjen","ri":0.836,"c":25.1},{"river":"Erhjen","ri":0.86,"c":29.1},{"river":"Erhjen","ri":0.884,"c":29.6},{"river":"Erhjen","ri":0.934,"c":30.7},{"river":"Erhjen","ri":0.987,"c":31.8},
    {"river":"Erhjen","ri":1.05,"c":32.8},{"river":"Erhjen","ri":1.13,"c":34.0},{"river":"Erhjen","ri":1.2,"c":35.2},{"river":"Erhjen","ri":1.28,"c":36.5},{"river":"Erhjen","ri":1.36,"c":37.6},{"river":"Erhjen","ri":1.45,"c":38.8},{"river":"Erhjen","ri":1.52,"c":40.4},{"river":"Erhjen","ri":1.6,"c":42.2},{"river":"Erhjen","ri":1.68,"c":43.5},{"river":"Erhjen","ri":1.75,"c":44.7},{"river":"Erhjen","ri":1.9,"c":46.7},{"river":"Erhjen","ri":2.0,"c":46.9},{"river":"Erhjen","ri":2.1,"c":47.1},{"river":"Erhjen","ri":2.28,"c":48.3},{"river":"Erhjen","ri":2.53,"c":50.0},{"river":"Erhjen","ri":2.8,"c":50.4},{"river":"Erhjen","ri":3.08,"c":51.3},{"river":"Erhjen","ri":3.37,"c":53.2},{"river":"Erhjen","ri":3.86,"c":55.7},{"river":"Erhjen","ri":4.4,"c":56.1},{"river":"Erhjen","ri":5.1,"c":58.1},{"river":"Erhjen","ri":6.15,"c":60.6},{"river":"Erhjen","ri":7.9,"c":91.9}
  ]},
  "layer": [
    {
      "transform": [{"filter": "datum.river != 'Hoping' && datum.river != 'Lanyang'"}],
      "mark": {"type": "line", "color": "black", "strokeWidth": 1},
      "encoding": {
        "x": {
          "field": "ri", "type": "quantitative",
          "scale": {"type": "log", "domain": [0.03, 40], "nice": false},
          "axis": {
            "orient": "top", "title": null, "labels": false,
            "values": [0.04,0.05,0.06,0.07,0.08,0.09,0.1,0.2,0.3,0.4,0.5,0.6,0.7,0.8,0.9,1,2,3,4,5,6,7,8,9,10,20,30],
            "tickSize": {"condition": {"test": "datum.value == 0.1 || datum.value == 1 || datum.value == 10", "value": -11}, "value": -6}
          }
        },
        "y": {
          "field": "c", "type": "quantitative",
          "scale": {"domain": [0, 100], "nice": false},
          "axis": {
            "orient": "right", "title": null, "labels": false,
            "values": [0,5,10,15,20,25,30,35,40,45,50,55,60,65,70,75,80,85,90,95,100],
            "tickSize": {"condition": {"test": "datum.value % 20 == 0", "value": -11}, "value": -6}
          }
        },
        "detail": {"field": "river"}
      }
    },
    {
      "transform": [{"filter": "datum.river == 'Hoping' || datum.river == 'Lanyang'"}],
      "mark": {"type": "line", "color": "black", "strokeWidth": 1, "strokeDash": [6, 4]},
      "encoding": {
        "x": {"field": "ri", "type": "quantitative", "scale": {"type": "log", "domain": [0.03, 40], "nice": false}, "axis": null},
        "y": {"field": "c", "type": "quantitative", "scale": {"domain": [0, 100], "nice": false}, "axis": null},
        "detail": {"field": "river"}
      }
    },
    {
      "mark": {"type": "point", "filled": false, "size": 120, "opacity": 1},
      "encoding": {
        "x": {
          "field": "ri", "type": "quantitative",
          "scale": {"type": "log", "domain": [0.03, 40], "nice": false},
          "axis": {
            "orient": "bottom",
            "title": "Recurrence interval, RI, (yr)",
            "values": [0.04,0.05,0.06,0.07,0.08,0.09,0.1,0.2,0.3,0.4,0.5,0.6,0.7,0.8,0.9,1,2,3,4,5,6,7,8,9,10,20,30],
            "labelExpr": "datum.value == 0.1 ? '0.1' : datum.value == 1 ? '1' : datum.value == 10 ? '10' : ''",
            "tickSize": {"condition": {"test": "datum.value == 0.1 || datum.value == 1 || datum.value == 10", "value": -11}, "value": -6},
            "labelPadding": 9,
            "titlePadding": 0
          }
        },
        "y": {
          "field": "c", "type": "quantitative",
          "scale": {"domain": [0, 100], "nice": false},
          "axis": {
            "orient": "left",
            "title": "Suspended sediment concentration, C, (kg/m³)",
            "values": [0,5,10,15,20,25,30,35,40,45,50,55,60,65,70,75,80,85,90,95,100],
            "labelExpr": "datum.value % 20 == 0 ? datum.label : ''",
            "tickSize": {"condition": {"test": "datum.value % 20 == 0", "value": -11}, "value": -6},
            "labelPadding": 10,
            "titlePadding": 5
          }
        },
        "strokeWidth": {
          "condition": {"test": "datum.ri < 0.9 && datum.river != 'Tachia' && datum.river != 'Erhjen'", "value": 1.7},
          "value": 1
        },
        "shape": {
          "field": "river", "type": "nominal",
          "scale": {
            "domain": ["Fengshan","Taan","Tachia","Choshui","Pachang","Tsengwen","Erhjen","Peinan","Hsiukuluan","Hualien","Hoping","Lanyang"],
            "range": ["circle","square","diamond","triangle-up","triangle-left","triangle-down","triangle-right","M-1,0L1,0M0,-1L0,1","M-0.75,-0.75L0.75,0.75M-0.75,0.75L0.75,-0.75","M-1,0L1,0M0,-1L0,1M-0.7,-0.7L0.7,0.7M-0.7,0.7L0.7,-0.7","circle","square"]
          },
          "legend": {"disable": true, "orient": "right"}
        },
        "color": {
          "field": "river", "type": "nominal",
          "scale": {
            "domain": ["Fengshan","Taan","Tachia","Choshui","Pachang","Tsengwen","Erhjen","Peinan","Hsiukuluan","Hualien","Hoping","Lanyang"],
            "range": ["black","black","black","black","black","black","black","black","black","black","black","black"]
          },
          "legend": {
            "title": null,
            "orient": "none",
            "legendX": 23,
            "legendY": 19,
            "direction": "vertical",
            "strokeColor": "black",
            "fillColor": "white",
            "padding": 6,
            "rowPadding": 0,
            "symbolSize": 144,
            "symbolOffset": 12,
            "symbolStrokeWidth": 1,
            "symbolFillColor": "transparent",
            "labelOffset": 18,
            "labelFont": "Liberation Sans",
            "labelFontSize": 12,
            "labelColor": "black",
            "encoding": {
              "symbols": {
                "size": {"value": 144},
                "fill": {"value": "transparent"},
                "strokeWidth": {"value": 1},
                "opacity": {"value": 1},
                "shape": {"value": {"expr": "datum.value === 'Fengshan' ? 'M-3,0A0.9,0.9,0,1,1,-1.2,0A0.9,0.9,0,1,1,-3,0ZM-1.2,0L1.2,0M1.2,0A0.9,0.9,0,1,1,3,0A0.9,0.9,0,1,1,1.2,0Z' : datum.value === 'Taan' ? 'M-2.9,-0.8L-1.3,-0.8L-1.3,0.8L-2.9,0.8ZM-1.3,0L1.3,0M1.3,-0.8L2.9,-0.8L2.9,0.8L1.3,0.8Z' : datum.value === 'Tachia' ? 'M-3,0L-2.05,-0.95L-1.1,0L-2.05,0.95ZM-1.1,0L1.1,0M1.1,0L2.05,-0.95L3,0L2.05,0.95Z' : datum.value === 'Choshui' ? 'M-3,0.7L-2.05,-1L-1.1,0.7ZM-1.32,0.3L1.32,0.3M1.1,0.7L2.05,-1L3,0.7Z' : datum.value === 'Pachang' ? 'M-3,0L-1.3,-0.95L-1.3,0.95ZM-1.3,0L1.3,0M1.3,0L3,-0.95L3,0.95Z' : datum.value === 'Tsengwen' ? 'M-3,-0.7L-1.1,-0.7L-2.05,1ZM-1.32,-0.3L1.32,-0.3M1.1,-0.7L3,-0.7L2.05,1Z' : datum.value === 'Erhjen' ? 'M-3,-0.95L-1.3,0L-3,0.95ZM-1.3,0L1.3,0M1.3,-0.95L3,0L1.3,0.95Z' : datum.value === 'Peinan' ? 'M-3,0L3,0M-2.1,-0.95L-2.1,0.95M2.1,-0.95L2.1,0.95' : datum.value === 'Hsiukuluan' ? 'M-2.8,-0.7L-1.4,0.7M-2.8,0.7L-1.4,-0.7M-2.1,0L2.1,0M1.4,-0.7L2.8,0.7M1.4,0.7L2.8,-0.7' : datum.value === 'Hualien' ? 'M-3,0L3,0M-2.1,-0.95L-2.1,0.95M-2.75,-0.65L-1.45,0.65M-2.75,0.65L-1.45,-0.65M2.1,-0.95L2.1,0.95M1.45,-0.65L2.75,0.65M1.45,0.65L2.75,-0.65' : datum.value === 'Hoping' ? 'M-3,0A0.9,0.9,0,1,1,-1.2,0A0.9,0.9,0,1,1,-3,0ZM-2.1,0L-1.2,0M-0.45,0L0.45,0M1.2,0L2.1,0M1.2,0A0.9,0.9,0,1,1,3,0A0.9,0.9,0,1,1,1.2,0Z' : 'M-2.9,-0.8L-1.3,-0.8L-1.3,0.8L-2.9,0.8ZM-2.1,0L-1.3,0M-0.45,0L0.45,0M1.3,0L2.1,0M1.3,-0.8L2.9,-0.8L2.9,0.8L1.3,0.8Z'"}}
              }
            }
          }
        }
      }
    },
    {
      "data": {"values": [{"threshold": 40}]},
      "mark": {"type": "rule", "color": "black", "strokeWidth": 3},
      "encoding": {
        "y": {"field": "threshold", "type": "quantitative", "scale": {"domain": [0, 100], "nice": false}, "axis": null}
      }
    },
    {
      "data": {"values": [{"label": "40 g/L Hyperpycnal threshold"}]},
      "mark": {"type": "text", "align": "left", "baseline": "alphabetic", "font": "Liberation Sans", "fontSize": 16, "color": "black"},
      "encoding": {
        "x": {"datum": 0.0361, "type": "quantitative", "scale": {"type": "log", "domain": [0.03, 40], "nice": false}, "axis": null},
        "y": {"datum": 35.3, "type": "quantitative", "scale": {"domain": [0, 100], "nice": false}, "axis": null},
        "text": {"field": "label"}
      }
    }
  ],
  "resolve": {"axis": {"x": "independent", "y": "independent"}}
}
